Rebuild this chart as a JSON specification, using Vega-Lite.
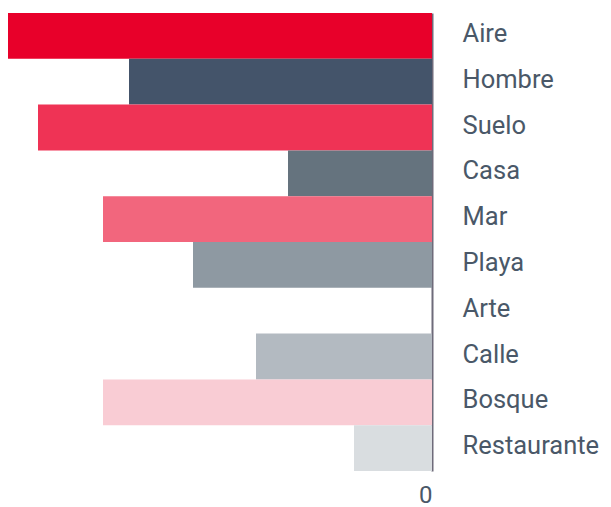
{
  "$schema": "https://vega.github.io/schema/vega-lite/v6.json",
  "width": 432,
  "height": 458,
  "autosize": {"type": "none"},
  "padding": {"left": 0, "top": 13, "right": 179, "bottom": 36},
  "background": "white",
  "data": {"values": [
    {"cat": "Aire", "v": 424},
    {"cat": "Hombre", "v": 303},
    {"cat": "Suelo", "v": 394},
    {"cat": "Casa", "v": 144},
    {"cat": "Mar", "v": 329},
    {"cat": "Playa", "v": 239},
    {"cat": "Arte", "v": 0},
    {"cat": "Calle", "v": 176},
    {"cat": "Bosque", "v": 329},
    {"cat": "Restaurante", "v": 78}
  ]},
  "mark": {"type": "bar"},
  "encoding": {
    "y": {"field": "cat", "type": "nominal", "sort": null,
      "scale": {"paddingInner": 0, "paddingOuter": 0},
      "axis": {"orient": "right", "title": null, "ticks": false, "domain": true, "domainColor": "#6E6B7A", "domainWidth": 2,
        "labelPadding": 30, "labelFont": "Roboto", "labelFontSize": 25.5, "labelColor": "#4A5868", "labelFontWeight": "normal", "labelOffset": -2}},
    "x": {"field": "v", "type": "quantitative",
      "scale": {"domain": [0, 432], "reverse": true, "nice": false},
      "axis": {"values": [0], "title": null, "grid": false, "domain": false, "ticks": false,
        "labelPadding": 12, "labelFont": "Roboto", "labelFontSize": 24, "labelFontWeight": "normal", "labelColor": "#4A5868"}},
    "color": {"field": "cat", "type": "nominal", "legend": null,
      "scale": {"domain": ["Aire","Hombre","Suelo","Casa","Mar","Playa","Arte","Calle","Bosque","Restaurante"],
        "range": ["#E8002A","#44546A","#EF3355","#65737E","#F2667D","#8E99A2","#FFFFFF","#B3BAC1","#F9CCD4","#D9DDE0"]}}
  },
  "config": {"view": {"stroke": null}}
}
